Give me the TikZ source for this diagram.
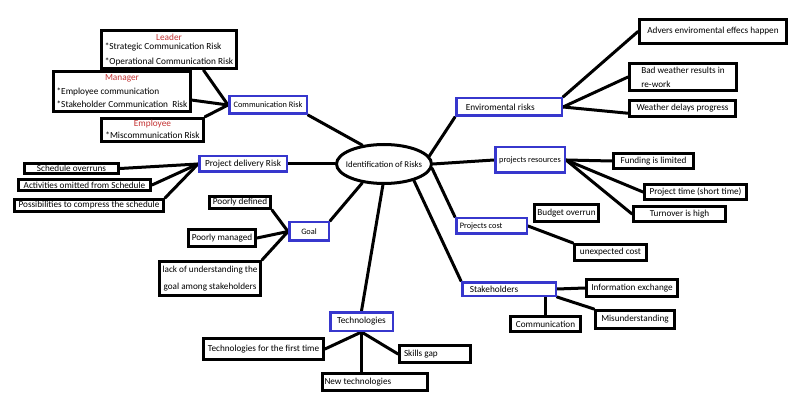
\documentclass[tikz,border=0pt]{standalone}
\usepackage{fontspec}
\setmainfont{Carlito}
\usetikzlibrary{shapes.geometric,calc,backgrounds}
\definecolor{boxblue}{RGB}{55,55,205}
\definecolor{hdred}{RGB}{196,52,52}
\begin{document}
\begin{tikzpicture}[x=1pt,y=-1pt,
  blk/.style={draw=black,line width=3pt,fill=white,inner sep=0pt,font=\fontsize{9.2}{11}\selectfont},
  blu/.style={draw=boxblue,line width=2.5pt,fill=white,inner sep=0pt,font=\fontsize{8.3}{10}\selectfont},
  blubig/.style={blu,font=\fontsize{9.3}{11}\selectfont},
  conn/.style={line width=3pt,line cap=round},
  sz/.style 2 args={minimum width=#1pt,minimum height=#2pt}]
\useasboundingbox (0,0) rectangle (800,403);
% centre
\node[ellipse,draw,line width=3pt,fill=white,inner sep=0pt,minimum width=95pt,minimum height=39pt,font=\fontsize{8.8}{10}\selectfont] (ell) at (384,164) {\makebox[30pt]{Identification of Risks}};
% communication risk
\node[blu,sz={77.5}{17.5}] (comm) at (268,105) {Communication Risk};
\node[blk,sz={135}{38},font=\fontsize{9.3}{14.4}\selectfont] (leader) at (169,49.5) {\begin{tabular}{@{}l@{}}\multicolumn{1}{@{}c@{}}{\textcolor{hdred}{Leader}}\\[-5pt] {}*Strategic Communication Risk\\ {}*Operational Communication Risk\end{tabular}};
\node[blk,sz={137}{40},font=\fontsize{9.3}{13.3}\selectfont] (manager) at (122,91.5) {\begin{tabular}{@{}l@{}}\multicolumn{1}{@{}c@{}}{\textcolor{hdred}{Manager}}\\ {}*Employee communication\\ {}*Stakeholder Communication\ \ Risk\end{tabular}};
\node[blk,sz={102}{23},font=\fontsize{9.3}{11.7}\selectfont] (employee) at (152.5,130) {\begin{tabular}{@{}l@{}}\multicolumn{1}{@{}c@{}}{\textcolor{hdred}{Employee}}\\ {}*Miscommunication Risk\end{tabular}};
% project delivery
\node[blubig,sz={87.5}{15.5}] (pdr) at (243,164) {Project delivery Risk};
\node[blk,sz={94}{10}] (sched) at (71.5,168.5) {Schedule overruns};
\node[blk,sz={132}{11}] (activ) at (84.5,185) {Activities omitted from Schedule};
\node[blk,sz={149}{12}] (poss) at (89,205.5) {Possibilities to compress the schedule};
% goal
\node[blu,sz={39.5}{18.5}] (goal) at (309,231.5) {Goal};
\node[blk,sz={61}{12}] (pdef) at (240,202.5) {Poorly defined};
\node[blk,sz={67}{17}] (pman) at (222,238) {Poorly managed};
\node[blk,sz={101}{34},align=center,font=\fontsize{9.2}{17}\selectfont] (lack) at (210,278.5) {lack of understanding the\\goal among stakeholders};
% technologies
\node[blubig,sz={62.5}{18.5}] (tech) at (361.5,321.5) {Technologies};
\node[blk,sz={120}{21}] (tfirst) at (263.5,349) {Technologies for the first time};
\node[blk,sz={71}{17}] (skills) at (435,354) {\makebox[71pt][l]{\hspace{4.5pt}Skills gap}};
\node[blk,sz={105}{17}] (newtech) at (375,382) {\makebox[105pt][l]{\hspace{2pt}New technologies}};
% environmental
\node[blubig,sz={105.5}{17.5}] (env) at (509,107) {\makebox[105.5pt][l]{\hspace{9.5pt}Enviromental risks}};
\node[blk,sz={147}{24}] (adv) at (713,31.5) {Advers enviromental effecs happen};
\node[blk,sz={107}{27},align=left,font=\fontsize{9.2}{14}\selectfont] (bad) at (683,77) {Bad weather results in\\re-work};
\node[blk,sz={106}{16}] (wdel) at (682.5,108.5) {Weather delays progress};
% resources
\node[blu,sz={69.5}{25.5}] (pres) at (530,160) {projects resources};
\node[blk,sz={80}{15}] (fund) at (653.5,161) {Funding is limited};
\node[blk,sz={102}{15}] (ptime) at (695.5,192) {Project time (short time)};
\node[blk,sz={92}{15}] (turn) at (679.5,214) {Turnover is high};
% cost
\node[blu,sz={70.5}{15.5}] (pcost) at (491.5,226) {\makebox[70.5pt][l]{\hspace{3.5pt}Projects cost}};
\node[blk,sz={64}{17}] (budget) at (566.5,213) {Budget overrun};
\node[blk,sz={72}{16}] (unexp) at (610.5,252.5) {unexpected cost};
% stakeholders
\node[blubig,sz={93.5}{13.5}] (stake) at (509,289) {\makebox[93.5pt][l]{\hspace{7.5pt}Stakeholders}};
\node[blk,sz={91}{17}] (info) at (632,288) {Information exchange};
\node[blk,sz={79}{18}] (misu) at (635,319.5) {Misunderstanding};
\node[blk,sz={70}{15}] (commu) at (545.5,324) {Communication};
\begin{scope}[on background layer]
\fill[white] (0,0) rectangle (800,403);
\draw[conn] (ell.139) -- (comm.south east);
\draw[conn] (comm.west) -- ($(leader.south west)!0.75!(leader.south east)$);
\draw[conn] (comm.west) -- ($(manager.north east)!0.7!(manager.south east)$);
\draw[conn] (comm.west) -- (employee.north east);
\draw[conn] (ell.west) -- (pdr.east);
\draw[conn] (pdr.west) -- (sched.east);
\draw[conn] (pdr.west) -- (activ.east);
\draw[conn] (pdr.west) -- (poss.north east);
\draw[conn] (ell.221) -- (goal.north east);
\draw[conn] (goal.west) -- (pdef.south east);
\draw[conn] (goal.west) -- (pman.east);
\draw[conn] (goal.west) -- (lack.north east);
\draw[conn] (ell.267) -- (tech.north);
\draw[conn] (tech.south) -- (tfirst.east);
\draw[conn] (tech.south) -- (tech.south |- newtech.north);
\draw[conn] (tech.south) -- (skills.west);
\draw[conn] (ell.331) -- (stake.north west);
\draw[conn] (stake.east) -- (info.west);
\draw[conn] (stake.south east) -- (misu.north west);
\draw[conn] (commu.north) -- (commu.north |- stake.south);
\draw[conn] (ell.355) -- (pcost.north west);
\draw[conn] (pcost.east) -- (unexp.north west);
\draw[conn] (ell.east) -- (pres.west);
\draw[conn] (pres.east) -- (fund.west);
\draw[conn] (pres.east) -- (ptime.west);
\draw[conn] (pres.east) -- (turn.west);
\draw[conn] (ell.10) -- (env.south west);
\draw[conn] (env.north east) -- (adv.west);
\draw[conn] (env.east) -- (bad.west);
\draw[conn] (env.east) -- ($(wdel.west)!0.5!(wdel.south west)$);
\end{scope}
\end{tikzpicture}
\end{document}
